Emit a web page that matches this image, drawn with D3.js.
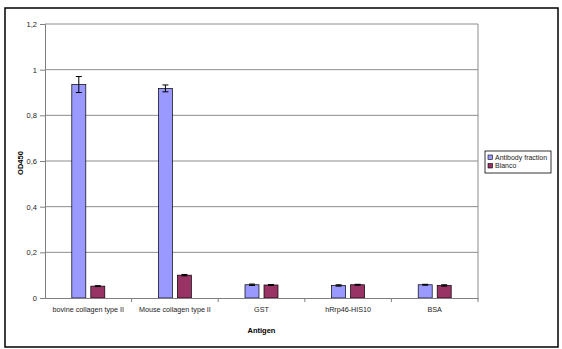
<!DOCTYPE html>
<html>
<head>
<meta charset="utf-8">
<script src="https://cdn.jsdelivr.net/npm/d3@7"></script>
<style>
  body { margin: 0; background: #fff; }
  svg { font-family: "Liberation Sans", Arial, sans-serif; }
</style>
</head>
<body>
<div id="chart"></div>
<script>
const categories = ['bovine collagen type II', 'Mouse collagen type II', 'GST', 'hRrp46-HIS10', 'BSA'];
const seriesNames = ['Antibody fraction', 'Blanco'];
const antibody = [0.935, 0.918, 0.058, 0.055, 0.058];
const antibodyErr = [0.035, 0.015, 0.003, 0.003, 0.002];
const blanco = [0.052, 0.100, 0.057, 0.058, 0.055];
const blancoErr = [0.002, 0.003, 0.002, 0.002, 0.003];
const yTicks = [0, 0.2, 0.4, 0.6, 0.8, 1, 1.2];

const width = 562;
const height = 349;
const colors = ['#9999ff', '#993366'];

const plot = {left: 45, top: 24, right: 478, bottom: 298};

const svg = d3.select('#chart')
  .append('svg')
  .attr('width', width)
  .attr('height', height);

// outer frame
svg.append('rect')
  .attr('x', 5).attr('y', 8)
  .attr('width', 553).attr('height', 339)
  .attr('fill', '#fff')
  .attr('stroke', '#000')
  .attr('stroke-width', 1.5);

const x = d3.scaleBand()
  .domain(categories)
  .range([plot.left, plot.right]);

const y = d3.scaleLinear()
  .domain([0, 1.2])
  .range([plot.bottom, plot.top]);

// gridlines
svg.append('g')
  .selectAll('line')
  .data(yTicks.filter(d => d > 0))
  .enter()
  .append('line')
  .attr('x1', plot.left).attr('x2', plot.right)
  .attr('y1', d => y(d)).attr('y2', d => y(d))
  .attr('stroke', '#8c8c8c')
  .attr('stroke-width', 1);

// right border of plot
svg.append('line')
  .attr('x1', plot.right).attr('x2', plot.right)
  .attr('y1', plot.top).attr('y2', plot.bottom)
  .attr('stroke', '#8c8c8c');

const barW = 14;
const offsets = [x.bandwidth() / 2 - barW - 2.5, x.bandwidth() / 2 + 2.5];
const series = [
  {values: antibody, err: antibodyErr},
  {values: blanco, err: blancoErr}
];

series.forEach((s, si) => {
  const g = svg.append('g');
  g.selectAll('rect')
    .data(categories)
    .enter()
    .append('rect')
    .attr('x', d => x(d) + offsets[si])
    .attr('y', (d, i) => y(s.values[i]))
    .attr('width', barW)
    .attr('height', (d, i) => y(0) - y(s.values[i]))
    .attr('fill', colors[si])
    .attr('stroke', '#000')
    .attr('stroke-width', 0.7);

  // error bars
  const eb = g.selectAll('g.err')
    .data(categories)
    .enter()
    .append('g');
  eb.append('line')
    .attr('x1', d => x(d) + offsets[si] + barW / 2)
    .attr('x2', d => x(d) + offsets[si] + barW / 2)
    .attr('y1', (d, i) => y(s.values[i] + s.err[i]))
    .attr('y2', (d, i) => y(s.values[i] - s.err[i]))
    .attr('stroke', '#000');
  [1, -1].forEach(sign => {
    eb.append('line')
      .attr('x1', d => x(d) + offsets[si] + barW / 2 - 3)
      .attr('x2', d => x(d) + offsets[si] + barW / 2 + 3)
      .attr('y1', (d, i) => y(s.values[i] + sign * s.err[i]))
      .attr('y2', (d, i) => y(s.values[i] + sign * s.err[i]))
      .attr('stroke', '#000');
  });
});

// y axis
const yAxis = d3.axisLeft(y)
  .tickValues(yTicks)
  .tickSize(5)
  .tickFormat(d => String(d).replace('.', ','));
svg.append('g')
  .attr('transform', `translate(${plot.left},0)`)
  .call(yAxis)
  .call(g => g.selectAll('path,line').attr('stroke', '#808080'))
  .call(g => g.selectAll('text').attr('font-size', 7.5).attr('fill', '#222').attr('x', -8));

// x axis
const xAxis = d3.axisBottom(x).tickSize(0).tickPadding(9);
svg.append('g')
  .attr('transform', `translate(0,${plot.bottom})`)
  .call(xAxis)
  .call(g => g.select('.domain').attr('stroke', '#808080'))
  .call(g => g.selectAll('text').attr('font-size', 7.2).attr('fill', '#222'));

// category separators
svg.append('g')
  .selectAll('line')
  .data(categories.slice(1).concat(['end']))
  .enter()
  .append('line')
  .attr('x1', d => d === 'end' ? plot.right : x(d))
  .attr('x2', d => d === 'end' ? plot.right : x(d))
  .attr('y1', plot.bottom)
  .attr('y2', plot.bottom + 4)
  .attr('stroke', '#808080');

// axis titles
svg.append('text')
  .attr('x', (plot.left + plot.right) / 2)
  .attr('y', 333)
  .attr('text-anchor', 'middle')
  .attr('font-size', 7.5)
  .attr('font-weight', 'bold')
  .text('Antigen');

svg.append('text')
  .attr('transform', 'translate(23,163) rotate(-90)')
  .attr('text-anchor', 'middle')
  .attr('font-size', 7.5)
  .attr('font-weight', 'bold')
  .text('OD450');

// legend
const legend = svg.append('g').attr('transform', 'translate(485,151)');
legend.append('rect')
  .attr('width', 66).attr('height', 22)
  .attr('fill', '#fff')
  .attr('stroke', '#000')
  .attr('stroke-width', 0.8);
seriesNames.forEach((name, i) => {
  legend.append('rect')
    .attr('x', 3).attr('y', 4 + i * 8.5)
    .attr('width', 4.5).attr('height', 4.5)
    .attr('fill', colors[i])
    .attr('stroke', '#000')
    .attr('stroke-width', 0.6);
  legend.append('text')
    .attr('x', 10).attr('y', 8.6 + i * 8.5)
    .attr('font-size', 7)
    .attr('fill', '#222')
    .text(name);
});
</script>
</body>
</html>
